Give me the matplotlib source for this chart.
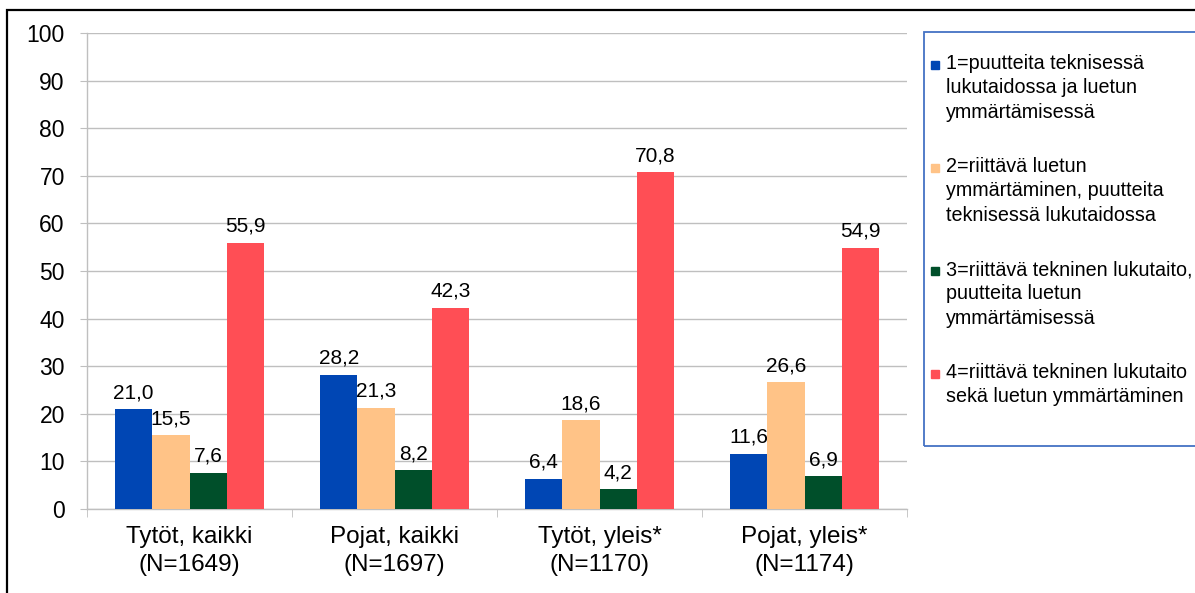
import numpy as np
import matplotlib.pyplot as plt
from matplotlib.patches import Rectangle

plt.rcParams['font.family'] = ['Liberation Sans', 'DejaVu Sans']

# data
categories = ['Tytöt, kaikki\n(N=1649)', 'Pojat, kaikki\n(N=1697)',
              'Tytöt, yleis*\n(N=1170)', 'Pojat, yleis*\n(N=1174)']
series_labels = ['1=puutteita teknisessä\nlukutaidossa ja luetun\nymmärtämisessä',
                 '2=riittävä luetun\nymmärtäminen, puutteita\nteknisessä lukutaidossa',
                 '3=riittävä tekninen lukutaito,\npuutteita luetun\nymmärtämisessä',
                 '4=riittävä tekninen lukutaito\nsekä luetun ymmärtäminen']
level1 = [21.0, 28.2, 6.4, 11.6]
level2 = [15.5, 21.3, 18.6, 26.6]
level3 = [7.6, 8.2, 4.2, 6.9]
level4 = [55.9, 42.3, 70.8, 54.9]
colors = ['#0046B4', '#FFC387', '#004F2A', '#FF4E55']

W, H = 1195, 593
fig = plt.figure(figsize=(W / 100, H / 100), dpi=100)
ax = fig.add_axes([87 / W, 1 - 509 / H, (907 - 87) / W, (509 - 33) / H])

grid_col = '#BFBFBF'
x = np.arange(len(categories))
bw = 0.1815
all_series = [level1, level2, level3, level4]
for i, vals in enumerate(all_series):
    pos = x + (i - 1.5) * bw
    bars = ax.bar(pos, vals, width=bw, color=colors[i], zorder=3)
    for b, v in zip(bars, vals):
        ax.annotate('{:.1f}'.format(v).replace('.', ','),
                    (b.get_x() + b.get_width() / 2, v),
                    xytext=(0, 5), textcoords='offset points',
                    ha='center', va='bottom', fontsize=15)

ax.set_xlim(-0.5, len(categories) - 0.5)
ax.set_ylim(0, 100)
ax.set_yticks(range(0, 101, 10))
ax.tick_params(axis='y', length=5, color=grid_col, labelsize=16.5, pad=11)
ax.set_xticks(x)
ax.set_xticklabels(categories, fontsize=17.5, linespacing=1.35)
ax.tick_params(axis='x', length=0, pad=12)
ax.set_xticks(np.arange(-0.5, len(categories), 1), minor=True)
ax.tick_params(axis='x', which='minor', length=6, color=grid_col)
ax.yaxis.grid(True, color=grid_col, linewidth=1, zorder=0)
ax.set_axisbelow(True)
for s in ['top', 'right']:
    ax.spines[s].set_visible(False)
for s in ['left', 'bottom']:
    ax.spines[s].set_color(grid_col)
    ax.spines[s].set_linewidth(1)

# outer frame
fig.patches.append(Rectangle((7 / W, -0.1), 1.2, 1 - 10 / H + 0.1,
                             transform=fig.transFigure, fill=False,
                             edgecolor='black', linewidth=1.6))

# legend box
fig.patches.append(Rectangle((924 / W, 1 - 446 / H), 0.5, (446 - 32) / H,
                             transform=fig.transFigure, fill=False,
                             edgecolor='#4472C4', linewidth=1.3))
for i, lab in enumerate(series_labels):
    top = 57 + i * 103
    fig.patches.append(Rectangle((931 / W, 1 - (top + 12) / H), 8 / W, 8 / H,
                                 transform=fig.transFigure, color=colors[i]))
    fig.text(946 / W, 1 - (top - 3) / H, lab, fontsize=14.2, va='top',
             ha='left', linespacing=1.36)

fig.savefig('out.png', dpi=100)
